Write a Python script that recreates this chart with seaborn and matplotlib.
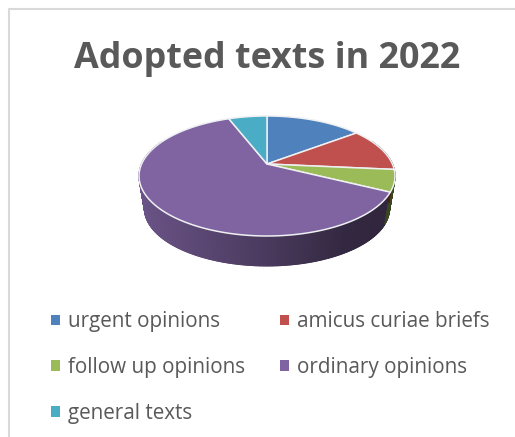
import numpy as np
import matplotlib
matplotlib.use("Agg")
import matplotlib.pyplot as plt
from matplotlib.patches import Patch, Polygon
import seaborn as sns

# Adopted texts by type
categories = ["urgent opinions", "amicus curiae briefs", "follow up opinions",
              "ordinary opinions", "general texts"]
counts = [5, 4, 2, 21, 2]
colours = ["#4f81bd", "#c0504d", "#9bbb59", "#8064a2", "#4bacc6"]
title = "Adopted texts in 2022"

sns.set_theme(style="white")
plt.rcParams["font.family"] = ["Open Sans", "DejaVu Sans"]
TEXT = "#595959"
W, H = 515, 437

fig = plt.figure(figsize=(W / 100, H / 100), dpi=100)
ax = fig.add_axes([0, 0, 1, 1])
ax.set_xlim(0, W)
ax.set_ylim(H, 0)
ax.axis("off")

# Chart frame: only the top and left edges fall inside the canvas
ax.plot([W, 8.5, 8.5], [8.5, 8.5, H], color="#d9d9d9", lw=1.5, zorder=1)

ax.text(267.5, 59, title, ha="center", va="center", fontsize=25.8,
        fontweight="bold", color=TEXT)

# Tilted disc: a perspective projection of the unit circle
CX, CY = 267.0, 164.0
A, B, K = 125.4, 57.6, 0.2
DEPTH, SHRINK = 33.0, 0.957


def rim(theta_deg, lower=False):
    t = np.radians(theta_deg)
    w = 1 + K * np.sin(t)
    x = A * np.cos(t) / w
    y = -B * np.sin(t) / w
    if lower:
        return CX + SHRINK * x, CY + DEPTH + SHRINK * y
    return CX + x, CY + y


# Slice boundaries run clockwise from twelve o'clock
fractions = np.array(counts) / np.sum(counts)
edges = 90 - 360 * np.concatenate([[0], np.cumsum(fractions)])

# Side wall, shaded from left to right in thin strips
steps = np.arange(-205.0, 25.0, 0.5)
for t0 in steps:
    t1 = t0 + 0.7
    # wrap the strip's angle into the clockwise range of the slices
    mid = t0 + 0.25
    probe = mid if mid <= 90 else mid - 360
    probe = probe if probe >= edges[-1] else probe + 360
    idx = int(np.clip(np.searchsorted(-edges, -probe) - 1, 0, len(counts) - 1))
    xt0, yt0 = rim(t0)
    xt1, yt1 = rim(t1)
    xb0, yb0 = rim(t0, True)
    xb1, yb1 = rim(t1, True)
    pos = (0.5 * (xb0 + xb1) - 139) / 256
    shade = np.interp(pos, [0, 0.5, 0.8, 1], [0.84, 0.58, 0.40, 0.37])
    base = np.array(matplotlib.colors.to_rgb(colours[idx]))
    face = base * shade
    ax.add_patch(Polygon([(xt0, yt0), (xt1, yt1), (xb1, yb1), (xb0, yb0)],
                         closed=True, facecolor=face, edgecolor=face,
                         linewidth=0.8, zorder=2))

# Top faces of the slices
for i, colour in enumerate(colours):
    arc = np.linspace(edges[i], edges[i + 1], 200)
    xs, ys = rim(arc)
    verts = np.column_stack([np.r_[CX, xs], np.r_[CY, ys]])
    ax.add_patch(Polygon(verts, closed=True, facecolor=colour,
                         edgecolor="#eef0f2", linewidth=1.1, joinstyle="round",
                         zorder=3))

# Legend fills column by column
order = [0, 2, 4, 1, 3]
handles = [Patch(facecolor=colours[i], edgecolor="none", label=categories[i])
           for i in order]
ax.legend(handles=handles, ncol=2, loc="upper left",
          bbox_to_anchor=(43 / W, 1 - 303 / H), frameon=False,
          fontsize=14.9, labelcolor=TEXT, handlelength=0.4, handleheight=0.4,
          handletextpad=0.42, labelspacing=1.2, columnspacing=1.7,
          borderpad=0.4, borderaxespad=0)

fig.savefig("out.png", dpi=100, facecolor="white")
